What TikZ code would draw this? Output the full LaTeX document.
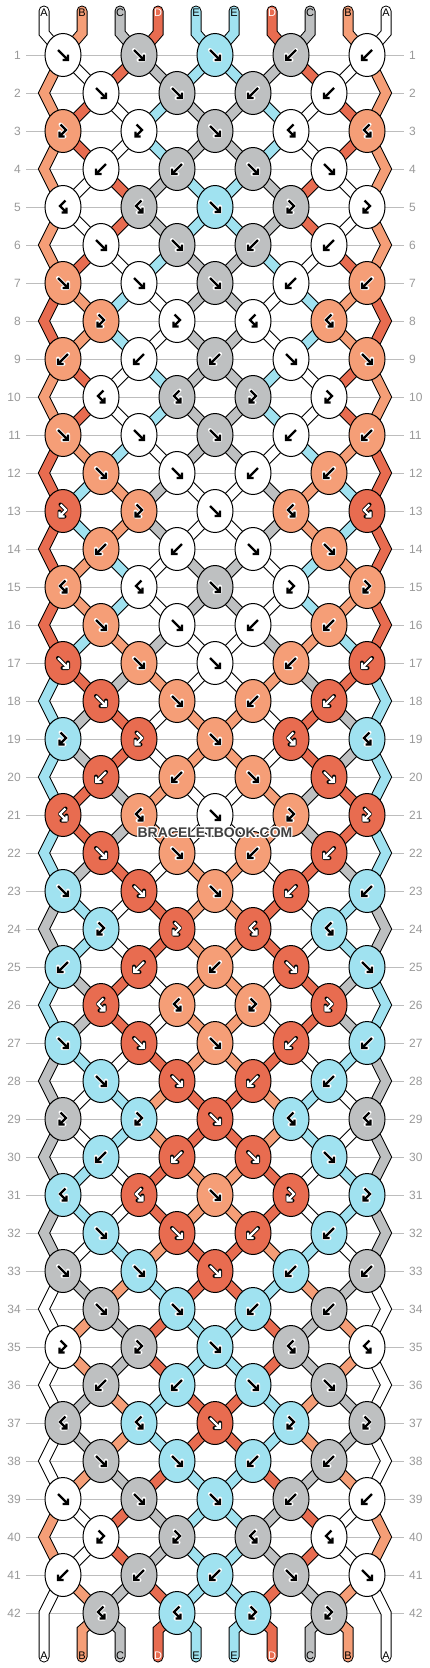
\documentclass[tikz,border=0pt]{standalone}
\usepackage{fontspec}
\setmainfont{Liberation Sans}
\usetikzlibrary{shapes.geometric}
\definecolor{wh}{HTML}{FFFFFF}
\definecolor{sa}{HTML}{F59E77}
\definecolor{gr}{HTML}{BEC0C1}
\definecolor{dr}{HTML}{E86C50}
\definecolor{bl}{HTML}{A0E2F0}
\definecolor{rowline}{HTML}{BDBDBD}
\definecolor{numgray}{HTML}{999999}
\definecolor{wmark}{HTML}{404040}

\def\defrow#1#2{\expandafter\def\csname kc#1\endcsname{#2}}
\defrow{1}{f,f,f,b,b}
\defrow{2}{f,f,b,b}
\defrow{3}{F,F,f,B,B}
\defrow{4}{b,b,f,f}
\defrow{5}{B,B,f,F,F}
\defrow{6}{f,f,b,b}
\defrow{7}{f,f,f,b,b}
\defrow{8}{F,F,B,B}
\defrow{9}{b,b,b,f,f}
\defrow{10}{B,B,F,F}
\defrow{11}{f,f,f,b,b}
\defrow{12}{f,f,b,b}
\defrow{13}{F,F,f,B,B}
\defrow{14}{b,b,f,f}
\defrow{15}{B,B,f,F,F}
\defrow{16}{f,f,b,b}
\defrow{17}{f,f,f,b,b}
\defrow{18}{f,f,b,b}
\defrow{19}{F,F,f,B,B}
\defrow{20}{b,b,f,f}
\defrow{21}{B,B,f,F,F}
\defrow{22}{f,f,b,b}
\defrow{23}{f,f,f,b,b}
\defrow{24}{F,F,B,B}
\defrow{25}{b,b,b,f,f}
\defrow{26}{B,B,F,F}
\defrow{27}{f,f,f,b,b}
\defrow{28}{f,f,b,b}
\defrow{29}{F,F,f,B,B}
\defrow{30}{b,b,f,f}
\defrow{31}{B,B,f,F,F}
\defrow{32}{f,f,b,b}
\defrow{33}{f,f,f,b,b}
\defrow{34}{f,f,b,b}
\defrow{35}{F,F,f,B,B}
\defrow{36}{b,b,f,f}
\defrow{37}{B,B,f,F,F}
\defrow{38}{f,f,b,b}
\defrow{39}{f,f,f,b,b}
\defrow{40}{F,F,B,B}
\defrow{41}{b,b,b,f,f}
\defrow{42}{B,B,F,F}

\def\setp#1#2{\expandafter\xdef\csname p#1\endcsname{#2}}
\def\getp#1{\csname p#1\endcsname}
\def\drname{dr}
\def\segpass{1}

\newcommand\setnn[2]{%
  \pgfmathtruncatemacro\tmpodd{mod(#1,2)}%
  \ifnum\tmpodd=1
    \pgfmathtruncatemacro\tmpk{(#2+1)/2}\edef\nn{p#1-\tmpk}%
  \else
    \ifnum#2=1 \edef\nn{e#1-L}%
    \else\ifnum#2=10 \edef\nn{e#1-R}%
    \else\pgfmathtruncatemacro\tmpk{#2/2}\edef\nn{p#1-\tmpk}%
    \fi\fi
  \fi}

\newcommand\mkseg[2]{%
  \ifnum\segpass=1
    \draw[line width=11pt,black,line cap=round] #2;%
  \else
    \draw[line width=9pt,color=#1,line cap=round] #2;%
  \fi}

\newcommand\allsegs{%
\foreach \rw in {1,...,41}{%
  \pgfmathtruncatemacro\rr{\rw+1}%
  \pgfmathtruncatemacro\isodd{mod(\rw,2)}%
  \foreach \jj in {2,...,9}{%
    \setnn{\rw}{\jj}\let\nA\nn
    \setnn{\rr}{\jj}\let\nB\nn
    \edef\scol{\csname s\rw-\jj\endcsname}%
    \mkseg{\scol}{(\nA) -- (\nB)}%
  }%
  \ifnum\isodd=1
    \foreach \jj/\side in {1/L,10/R}{%
      \setnn{\rw}{\jj}\let\nA\nn
      \edef\scol{\csname s\rw-\jj\endcsname}%
      \ifnum\rw<41
        \pgfmathtruncatemacro\rrr{\rw+2}%
        \setnn{\rrr}{\jj}\let\nC\nn
        \mkseg{\scol}{(\nA) -- (e\rr-\side) -- (\nC)}%
      \else
        \mkseg{\scol}{(\nA) -- (e\rr-\side) -- (b\jj)}%
      \fi
    }%
  \fi
}%
\foreach \jj in {1,...,10}{%
  \setnn{1}{\jj}\let\nA\nn
  \edef\scol{\csname s0-\jj\endcsname}%
  \mkseg{\scol}{(t\jj) -- (tb\jj) -- (\nA)}%
}%
\foreach \jj in {2,...,9}{%
  \setnn{42}{\jj}\let\nA\nn
  \edef\scol{\csname s42-\jj\endcsname}%
  \mkseg{\scol}{(\nA) -- (bb\jj) -- (b\jj)}%
}}

\newcommand\drawglyph[2]{%
  \if#1f\draw[#2] (-5,-5) -- (5,5) (5,-0.5) -- (5,5) -- (-0.5,5);\fi
  \if#1b\draw[#2] (5,-5) -- (-5,5) (-5,-0.5) -- (-5,5) -- (0.5,5);\fi
  \if#1F\draw[#2] (-2.5,-6.5) -- (3,-1) -- (-3.5,5.5) (-3.5,0.5) -- (-3.5,5.5) -- (1.5,5.5);\fi
  \if#1B\draw[#2] (2.5,-6.5) -- (-3,-1) -- (3.5,5.5) (3.5,0.5) -- (3.5,5.5) -- (-1.5,5.5);\fi}

\begin{document}
\begin{tikzpicture}[x=1pt,y=-1pt,
  knot/.style={ellipse,draw=black,line width=1pt,minimum width=36pt,minimum height=43pt,inner sep=0pt},
  num/.style={text=numgray,font=\fontsize{12}{12}\selectfont,inner sep=0pt},
  lab/.style={font=\fontsize{11}{11}\selectfont,inner sep=0pt},
  wm/.style={font=\fontsize{14}{14}\selectfont\bfseries,inner sep=0pt}]
\useasboundingbox (0,0) rectangle (430,1668);
\fill[white] (0,0) rectangle (430,1668);
% ---- simulation of the strands ----
\setp{1}{wh}\setp{2}{sa}\setp{3}{gr}\setp{4}{dr}\setp{5}{bl}%
\setp{6}{bl}\setp{7}{dr}\setp{8}{gr}\setp{9}{sa}\setp{10}{wh}%
\foreach \jj in {1,...,10}{\expandafter\xdef\csname s0-\jj\endcsname{\getp{\jj}}}%
\foreach \rw in {1,...,42}{%
  \pgfmathtruncatemacro\isodd{mod(\rw,2)}%
  \edef\codes{\csname kc\rw\endcsname}%
  \foreach \cd [count=\kn] in \codes {%
    \ifnum\isodd=1 \pgfmathtruncatemacro\Lp{2*\kn-1}\else\pgfmathtruncatemacro\Lp{2*\kn}\fi
    \pgfmathtruncatemacro\Rp{\Lp+1}%
    \edef\lc{\getp{\Lp}}\edef\rc{\getp{\Rp}}%
    \if\cd f\edef\kcol{\lc}\setp{\Lp}{\rc}\setp{\Rp}{\lc}\fi
    \if\cd b\edef\kcol{\rc}\setp{\Lp}{\rc}\setp{\Rp}{\lc}\fi
    \if\cd F\edef\kcol{\lc}\fi
    \if\cd B\edef\kcol{\rc}\fi
    \expandafter\xdef\csname k\rw-\kn\endcsname{\kcol}%
  }%
  \foreach \jj in {1,...,10}{\expandafter\xdef\csname s\rw-\jj\endcsname{\getp{\jj}}}%
}%
% ---- row lines and numbers ----
\foreach \rw in {1,...,42}{%
  \pgfmathsetmacro\y{55+38*(\rw-1)}%
  \draw[rowline,line width=1pt] (26,\y) -- (404,\y);
  \node[num,anchor=east] (nl\rw) at (21,\y) {\rw};
  \node[num,anchor=west] (nr\rw) at (409,\y) {\rw};
}
% ---- coordinates ----
\foreach \jj in {1,...,10}{%
  \pgfmathsetmacro\xx{44+38*(\jj-1)}%
  \coordinate (t\jj) at (\xx,11);
  \coordinate (tb\jj) at (\xx,33);
  \coordinate (bb\jj) at (\xx,1630);
  \coordinate (b\jj) at (\xx,1657);
}
\foreach \rw in {1,...,42}{%
  \pgfmathtruncatemacro\isodd{mod(\rw,2)}%
  \pgfmathsetmacro\y{55+38*(\rw-1)}%
  \ifnum\isodd=1
    \foreach \kn in {1,...,5}{\pgfmathsetmacro\x{63+76*(\kn-1)}\coordinate (p\rw-\kn) at (\x,\y);}%
  \else
    \foreach \kn in {1,...,4}{\pgfmathsetmacro\x{101+76*(\kn-1)}\coordinate (p\rw-\kn) at (\x,\y);}%
    \coordinate (e\rw-L) at (44,\y); \coordinate (e\rw-R) at (386,\y);
  \fi
}
% ---- strand segments: outlines, then fills ----
\def\segpass{1}\allsegs
\def\segpass{2}\allsegs
% ---- knots ----
\foreach \rw in {1,...,42}{%
  \edef\codes{\csname kc\rw\endcsname}%
  \foreach \cd [count=\kn] in \codes {%
    \edef\kcol{\csname k\rw-\kn\endcsname}%
    \node[knot,fill=\kcol] (k\rw-\kn) at (p\rw-\kn) {};
    \def\hal{white}\def\arr{black}%
    \ifx\kcol\drname\def\hal{black}\def\arr{white}\fi
    \begin{scope}[shift={(p\rw-\kn)}]
      \drawglyph{\cd}{line width=4pt,color=\hal,line join=round,line cap=round}
      \drawglyph{\cd}{line width=2.2pt,color=\arr}
    \end{scope}
  }%
}
% ---- strand letters ----
\foreach \jj/\lt/\lcol in {1/A/black,2/B/black,3/C/black,4/D/white,5/E/black,6/E/black,7/D/white,8/C/black,9/B/black,10/A/black}{%
  \pgfmathsetmacro\xx{44+38*(\jj-1)}%
  \node[lab,text=\lcol] (lt\jj) at (\xx,13) {\lt};
  \node[lab,text=\lcol] (lb\jj) at (\xx,1656) {\lt};
}
% ---- watermark ----
\foreach \dx/\dy [count=\wi] in {1/0,-1/0,0/1,0/-1,1/1,1/-1,-1/1,-1/-1}{%
  \node[wm,text=white] (wh\wi) at (215+\dx,833+\dy) {BRACELETBOOK.COM};
}
\node[wm,text=wmark] (wm) at (215,833) {BRACELETBOOK.COM};
\end{tikzpicture}
\end{document}
